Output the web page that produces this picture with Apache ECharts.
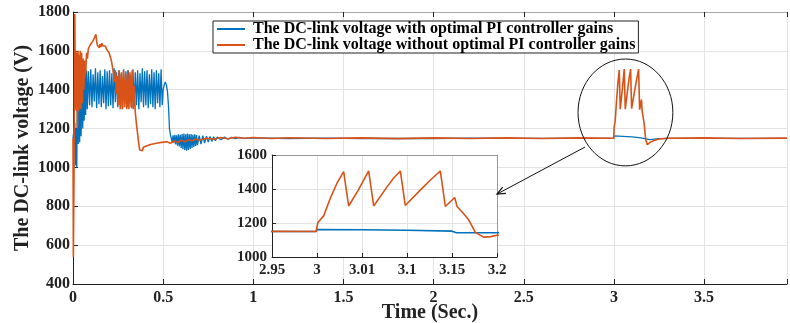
<!DOCTYPE html>
<html>
<head>
<meta charset="utf-8">
<script src="https://cdn.jsdelivr.net/npm/echarts@6/dist/echarts.min.js"></script>
<style>
html,body{margin:0;padding:0;background:#fff;}
#c{width:790px;height:323px;}
</style>
</head>
<body>
<div id="c"></div>
<script>
// ---- Data (time in s, voltage in V) ----
const seriesNames = [
  'The DC-link voltage with optimal PI controller gains',
  'The DC-link voltage without optimal PI controller gains'
];
const mainXTicks = [0, 0.5, 1, 1.5, 2, 2.5, 3, 3.5];
const mainYTicks = [400, 600, 800, 1000, 1200, 1400, 1600, 1800];
const insetXTickLabels = ['2.95', '3', '3.01', '3.1', '3.15', '3.2'];
const insetYTicks = [1000, 1200, 1400, 1600];

// With optimal PI gains (blue)
const blueWithOptimal = [
  [0.000,1150],[0.006,1140],[0.010,1230],[0.014,1010],[0.018,1200],[0.021,1000],[0.025,1450],[0.029,1120],
  [0.033,1500],[0.037,1130],[0.041,1490],[0.045,1160],[0.050,1500],[0.054,1200],[0.058,1490],[0.062,1240],
  [0.066,1500],[0.070,1270],[0.075,1500],[0.079,1300],
  [0.0855,1495],[0.092,1320],[0.0985,1505],[0.105,1310],[0.1115,1480],[0.118,1340],[0.1245,1510],[0.131,1305],
  [0.1375,1490],[0.144,1325],[0.1505,1500],[0.157,1310],[0.1635,1470],[0.170,1330],[0.1765,1505],[0.183,1300],
  [0.1895,1495],[0.196,1315],[0.2025,1500],[0.209,1320],[0.2155,1485],[0.222,1305],[0.2285,1510],[0.235,1335],
  [0.2415,1490],[0.248,1310],[0.2545,1500],[0.261,1320],[0.2675,1480],[0.274,1300],[0.2805,1505],[0.287,1325],
  [0.2935,1495],[0.300,1310],[0.3065,1500],[0.313,1330],[0.3195,1475],[0.326,1305],[0.3325,1505],[0.339,1315],
  [0.3455,1490],[0.352,1320],[0.3585,1500],[0.365,1300],[0.3715,1485],[0.378,1335],[0.3845,1510],[0.391,1310],
  [0.3975,1495],[0.404,1320],[0.4105,1500],[0.417,1305],[0.4235,1480],[0.430,1325],[0.4365,1505],[0.443,1310],
  [0.4495,1490],[0.456,1300],[0.4625,1500],[0.469,1330],[0.4755,1485],[0.482,1310],[0.4885,1505],[0.495,1320],
  [0.500,1400],[0.506,1425],[0.512,1440],[0.518,1425],[0.524,1390],[0.530,1310],[0.535,1200],[0.540,1170],
  [0.545,1172],[0.550,1130],[0.555,1165],[0.560,1125],[0.565,1168],[0.570,1118],[0.575,1165],[0.580,1112],
  [0.585,1170],[0.590,1108],[0.595,1168],[0.600,1100],[0.605,1172],[0.610,1094],[0.615,1175],[0.620,1090],
  [0.625,1170],[0.630,1086],[0.635,1174],[0.640,1090],[0.645,1170],[0.650,1095],[0.655,1172],[0.660,1100],
  [0.665,1168],[0.670,1105],[0.675,1170],[0.680,1110],[0.685,1166],[0.690,1115],[0.700,1164],[0.710,1120],
  [0.720,1163],[0.730,1125],[0.740,1161],[0.750,1130],[0.760,1159],[0.770,1134],[0.780,1158],[0.790,1138],
  [0.800,1157],[0.820,1142],[0.840,1156],[0.860,1145],[0.880,1155],[0.900,1148],[0.920,1154],[0.950,1150],
  [1.000,1152],[1.200,1149],[1.400,1151],[1.600,1149],[1.800,1150],[2.000,1149],[2.200,1151],[2.500,1150],
  [2.800,1150],[2.999,1150],[3.000,1162],[3.050,1160],[3.100,1157],[3.150,1152],[3.155,1143],[3.200,1143],
  [3.250,1148],[3.300,1150],[3.600,1150],[3.960,1150]
];

// Without optimal PI gains (orange)
const orangeWithoutOptimal = [
  [0.000,1150],[0.002,540],[0.006,1000],[0.010,1790],[0.013,1300],[0.016,1600],[0.019,1290],[0.022,1590],
  [0.025,1200],[0.028,1600],[0.031,1290],[0.034,1580],[0.037,1300],[0.040,1600],[0.044,1300],[0.048,1590],
  [0.052,1330],[0.056,1560],[0.060,1400],[0.065,1550],[0.070,1480],[0.075,1590],[0.080,1560],[0.085,1610],
  [0.090,1600],[0.095,1630],[0.100,1620],[0.105,1640],[0.110,1650],[0.115,1660],[0.120,1670],[0.127,1685],
  [0.131,1650],[0.135,1630],[0.140,1640],[0.145,1615],[0.150,1635],[0.155,1620],[0.160,1640],[0.165,1625],
  [0.170,1630],[0.175,1615],[0.180,1625],[0.185,1610],[0.190,1620],[0.195,1600],[0.200,1590],[0.205,1575],
  [0.210,1560],[0.215,1540],[0.220,1510],[0.225,1480],[0.230,1440],[0.235,1500],[0.240,1380],[0.245,1470],
  [0.250,1320],[0.256,1500],[0.262,1300],[0.268,1490],[0.274,1300],[0.280,1500],[0.286,1310],[0.292,1480],
  [0.298,1300],[0.304,1500],[0.310,1300],[0.316,1490],[0.322,1310],[0.328,1500],[0.334,1300],[0.340,1420],
  [0.345,1290],[0.350,1240],[0.355,1200],[0.360,1160],[0.365,1120],[0.370,1090],[0.375,1080],[0.380,1096],
  [0.385,1086],[0.390,1104],[0.400,1094],[0.410,1112],[0.420,1102],[0.430,1118],[0.440,1108],[0.450,1122],
  [0.460,1112],[0.470,1126],[0.480,1116],[0.490,1129],[0.500,1120],[0.520,1132],[0.540,1124],[0.560,1136],
  [0.580,1128],[0.600,1140],[0.620,1132],[0.640,1143],[0.660,1136],[0.680,1146],[0.700,1140],[0.740,1150],
  [0.780,1145],[0.820,1154],[0.860,1148],[0.900,1155],[0.950,1150],[1.000,1154],[1.100,1149],[1.200,1153],
  [1.400,1149],[1.600,1152],[1.800,1148],[2.000,1152],[2.200,1149],[2.400,1152],[2.600,1149],[2.800,1152],
  [2.999,1150],[3.000,1150],[3.001,1203],[3.0074,1242],[3.0148,1346],[3.0222,1434],[3.0296,1502],[3.0352,1300],
  [3.046,1395],[3.0574,1506],[3.063,1300],[3.078,1414],[3.085,1463],[3.0926,1506],[3.0981,1303],[3.115,1395],
  [3.126,1453],[3.137,1506],[3.1426,1297],[3.153,1350],[3.1556,1297],[3.162,1260],[3.1685,1219],[3.176,1145],
  [3.185,1117],[3.193,1120],[3.200,1128],[3.220,1138],[3.250,1146],[3.300,1150],[3.500,1152],[3.700,1149],
  [3.960,1151]
];

// ---- Chart ----
const BLUE = '#0072BD';
const ORANGE = '#D95319';
const FONT = "'Liberation Serif','Times New Roman',serif";

const chart = echarts.init(document.getElementById('c'), null, {renderer: 'canvas'});

const option = {
  animation: false,
  backgroundColor: '#fff',
  textStyle: {fontFamily: FONT},
  grid: [
    {left: 73, top: 12, right: 3, bottom: 39, show: false, containLabel: false, outerBoundsMode: 'none'},
    {left: 272, top: 155, width: 225, height: 102, show: true, backgroundColor: '#fff',
     borderWidth: 0, z: 10, containLabel: false, outerBoundsMode: 'none'}
  ],
  legend: {
    show: true,
    left: 213, top: 21,
    orient: 'vertical',
    data: seriesNames,
    icon: 'rect',
    itemWidth: 28, itemHeight: 2, itemGap: 0,
    padding: [0, 3, 0, 4],
    backgroundColor: '#fff',
    borderColor: '#222', borderWidth: 1,
    textStyle: {fontFamily: FONT, fontWeight: 'bold', fontSize: 16, color: '#000', lineHeight: 16, padding: [0,0,0,3]},
    z: 30
  },
  xAxis: [
    {
      type: 'value', gridIndex: 0, min: 0, max: 3.96, interval: 0.5,
      name: 'Time (Sec.)', nameLocation: 'middle', nameGap: 19, nameMoveOverlap: false,
      nameTextStyle: {fontFamily: FONT, fontWeight: 'bold', fontSize: 20, color: '#222'},
      axisLine: {show: true, onZero: false, lineStyle: {color: '#222', width: 1}},
      axisTick: {show: true, inside: true, length: 5, lineStyle: {color: '#222'}},
      axisLabel: {fontFamily: FONT, fontWeight: 'bold', fontSize: 16, color: '#222', margin: 6,
        formatter: v => (mainXTicks.indexOf(v) >= 0 ? String(v) : '')},
      splitLine: {show: true, lineStyle: {color: '#e3e3e3', width: 1}}
    },
    {
      type: 'value', gridIndex: 0, position: 'top', min: 0, max: 3.96, interval: 0.5,
      axisLine: {show: true, onZero: false, lineStyle: {color: '#aaa', width: 1}},
      axisTick: {show: true, inside: true, length: 5, lineStyle: {color: '#222'}},
      axisLabel: {show: false}, splitLine: {show: false}
    },
    {
      type: 'value', gridIndex: 1, min: 2.95, max: 3.2, interval: 0.05,
      axisLine: {show: true, onZero: false, lineStyle: {color: '#222', width: 1}},
      axisTick: {show: true, inside: true, length: 4, lineStyle: {color: '#222'}},
      axisLabel: {fontFamily: FONT, fontWeight: 'bold', fontSize: 15, color: '#222', margin: 6,
        formatter: v => insetXTickLabels[Math.round((v - 2.95) / 0.05)] || ''},
      splitLine: {show: true, lineStyle: {color: '#e3e3e3', width: 1}},
      z: 11
    },
    {
      type: 'value', gridIndex: 1, position: 'top', min: 2.95, max: 3.2, interval: 0.05,
      axisLine: {show: true, onZero: false, lineStyle: {color: '#999', width: 1}},
      axisTick: {show: false}, axisLabel: {show: false}, splitLine: {show: false}, z: 11
    }
  ],
  yAxis: [
    {
      type: 'value', gridIndex: 0, min: 400, max: 1800, interval: 200,
      name: 'The DC-link voltage (V)', nameLocation: 'middle', nameGap: 40, nameRotate: 90, nameMoveOverlap: false,
      nameTextStyle: {fontFamily: FONT, fontWeight: 'bold', fontSize: 20, color: '#222'},
      axisLine: {show: true, onZero: false, lineStyle: {color: '#222', width: 1}},
      axisTick: {show: true, inside: true, length: 5, lineStyle: {color: '#222'}},
      axisLabel: {fontFamily: FONT, fontWeight: 'bold', fontSize: 16, color: '#222', margin: 3,
        formatter: v => (mainYTicks.indexOf(v) >= 0 ? String(v) : '')},
      splitLine: {show: true, lineStyle: {color: '#e3e3e3', width: 1}}
    },
    {
      type: 'value', gridIndex: 1, min: 1000, max: 1600, interval: 200,
      axisLine: {show: true, onZero: false, lineStyle: {color: '#222', width: 1}},
      axisTick: {show: true, inside: true, length: 4, lineStyle: {color: '#222'}},
      axisLabel: {fontFamily: FONT, fontWeight: 'bold', fontSize: 15, color: '#222', margin: 5,
        formatter: v => (insetYTicks.indexOf(v) >= 0 ? String(v) : '')},
      splitLine: {show: true, lineStyle: {color: '#e3e3e3', width: 1}},
      z: 11
    },
    {
      type: 'value', gridIndex: 1, position: 'right', min: 1000, max: 1600, interval: 200,
      axisLine: {show: true, onZero: false, lineStyle: {color: '#999', width: 1}},
      axisTick: {show: false}, axisLabel: {show: false}, splitLine: {show: false}, z: 11
    }
  ],
  series: [
    {name: seriesNames[0], type: 'line', xAxisIndex: 0, yAxisIndex: 0, data: blueWithOptimal,
     showSymbol: false, symbol: 'none', lineStyle: {color: BLUE, width: 1.3}, itemStyle: {color: BLUE}, z: 3},
    {name: seriesNames[1], type: 'line', xAxisIndex: 0, yAxisIndex: 0, data: orangeWithoutOptimal,
     showSymbol: false, symbol: 'none', lineStyle: {color: ORANGE, width: 1.6}, itemStyle: {color: ORANGE}, z: 4},
    {name: seriesNames[0], type: 'line', xAxisIndex: 2, yAxisIndex: 1, data: blueWithOptimal,
     showSymbol: false, symbol: 'none', clip: true, lineStyle: {color: BLUE, width: 1.6}, itemStyle: {color: BLUE}, z: 12},
    {name: seriesNames[1], type: 'line', xAxisIndex: 2, yAxisIndex: 1, data: orangeWithoutOptimal,
     showSymbol: false, symbol: 'none', clip: true, lineStyle: {color: ORANGE, width: 1.6}, itemStyle: {color: ORANGE}, z: 13}
  ]
};
chart.setOption(option);

// Annotation: ellipse around the 3.0–3.2 s event and an arrow to the inset
const c = chart.convertToPixel({xAxisIndex: 0, yAxisIndex: 0}, [3.064, 1283]);
const e1 = chart.convertToPixel({xAxisIndex: 0, yAxisIndex: 0}, [3.064 + 0.263, 1283 - 275]);
const a0 = chart.convertToPixel({xAxisIndex: 0, yAxisIndex: 0}, [2.84, 1105]);
const a1 = chart.convertToPixel({xAxisIndex: 2, yAxisIndex: 1}, [3.2, 1370]);
const rx = e1[0] - c[0], ry = e1[1] - c[1];
const ang = Math.atan2(a1[1] - a0[1], a1[0] - a0[0]);
const hl = 9, hw = 0.4;
chart.setOption({
  graphic: [
    {type: 'ellipse', shape: {cx: c[0], cy: c[1], rx: rx, ry: ry}, style: {fill: null, stroke: '#111', lineWidth: 1}, z: 40, silent: true},
    {type: 'line', shape: {x1: a0[0], y1: a0[1], x2: a1[0], y2: a1[1]}, style: {stroke: '#111', lineWidth: 1}, z: 40, silent: true},
    {type: 'polyline', shape: {points: [
      [a1[0] - hl * Math.cos(ang - hw), a1[1] - hl * Math.sin(ang - hw)],
      [a1[0], a1[1]],
      [a1[0] - hl * Math.cos(ang + hw), a1[1] - hl * Math.sin(ang + hw)]
    ]}, style: {stroke: '#111', lineWidth: 1.2, fill: null}, z: 40, silent: true}
  ]
});
</script>
</body>
</html>
